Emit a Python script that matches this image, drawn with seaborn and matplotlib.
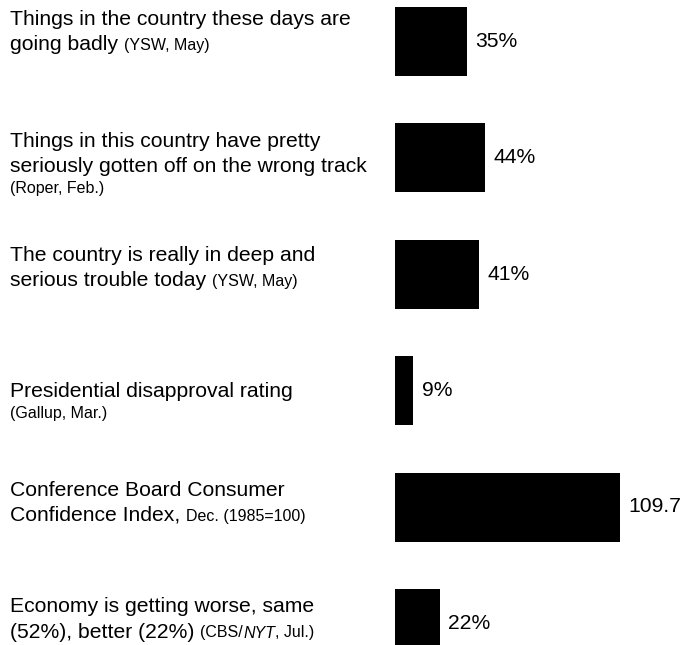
import matplotlib
matplotlib.use("Agg")
import matplotlib.pyplot as plt
import seaborn as sns
import pandas as pd

# ---------------- data ----------------
categories = [
    "Going badly (YSW)",
    "Wrong track (Roper)",
    "Deep trouble (YSW)",
    "Presidential disapproval (Gallup)",
    "Consumer Confidence Index",
    "Economy getting worse (CBS/NYT)",
]
values = [35, 44, 41, 9, 109.7, 22]
value_labels = ["35%", "44%", "41%", "9%", "109.7", "22%"]

# text of the left-hand labels: lines made of (text, style) segments
label_lines = [
    [[("Things in the country these days are", "big")],
     [("going badly", "big"), ("(YSW, May)", "small")]],
    [[("Things in this country have pretty", "big")],
     [("seriously gotten off on the wrong track", "big")],
     [("(Roper, Feb.)", "small")]],
    [[("The country is really in deep and", "big")],
     [("serious trouble today", "big"), ("(YSW, May)", "small")]],
    [[("Presidential disapproval rating", "big")],
     [("(Gallup, Mar.)", "small")]],
    [[("Conference Board Consumer", "big")],
     [("Confidence Index,", "big"), ("Dec. (1985=100)", "small")]],
    [[("Economy is getting worse, same", "big")],
     [("(52%), better (22%)", "big"), ("(CBS/", "small"), ("NYT", "smallit"),
      (", Jul.)", "small")]],
]

# ---------------- layout ----------------
W, H, DPI = 686, 645, 100
BASE_X = 395          # pixel where bars start
PX_PER_UNIT = 2.05    # bar length scale
ROW = 116.5           # pixel spacing between bars
FIRST = 41            # pixel centre of first bar (from top)
BAR_H = 69            # bar thickness in px
first_baseline_offset = [-16, -10.5, -13, 6.5, -11.5, -11]  # px, rel. to bar centre
BIG, SMALL = 15.2, 11.5

sns.set_style("white")
plt.rcParams["font.family"] = ["Liberation Sans", "DejaVu Sans"]

fig = plt.figure(figsize=(W / DPI, H / DPI), dpi=DPI)
fig.patch.set_facecolor("white")
ax = fig.add_axes([BASE_X / W, 0, (W - BASE_X) / W, 1])

df = pd.DataFrame({"category": categories, "value": values})
sns.barplot(data=df, x="value", y="category", orient="h", color="black",
            saturation=1, width=BAR_H / ROW, ax=ax, edgecolor="none")

ax.set_xlim(0, (W - BASE_X) / PX_PER_UNIT)
ax.set_ylim((H - FIRST) / ROW, -FIRST / ROW)
ax.axis("off")

ax.bar_label(ax.containers[0], labels=value_labels, padding=6,
             fontsize=BIG, color="black")

# ---------------- left labels ----------------
renderer = fig.canvas.get_renderer()
styles = {
    "big": dict(fontsize=BIG),
    "small": dict(fontsize=SMALL),
    "smallit": dict(fontsize=SMALL, style="italic"),
}
LEFT = 10
for i, lines in enumerate(label_lines):
    cy_disp = ax.transData.transform((0, i))[1]      # display y (from bottom)
    cy = H - cy_disp                                  # px from top
    y = cy + first_baseline_offset[i]
    for j, segs in enumerate(lines):
        if j > 0:
            is_big = segs[0][1] == "big"
            y += 25 if is_big else 21
        x = LEFT
        prev_style = None
        for text, st in segs:
            if prev_style == "big":
                x += 6
            t = fig.text(x / W, 1 - y / H, text, ha="left", va="baseline",
                         color="black", **styles[st])
            bb = t.get_window_extent(renderer)
            x = bb.x1
            prev_style = st

fig.savefig("out.png", dpi=DPI, facecolor="white")
